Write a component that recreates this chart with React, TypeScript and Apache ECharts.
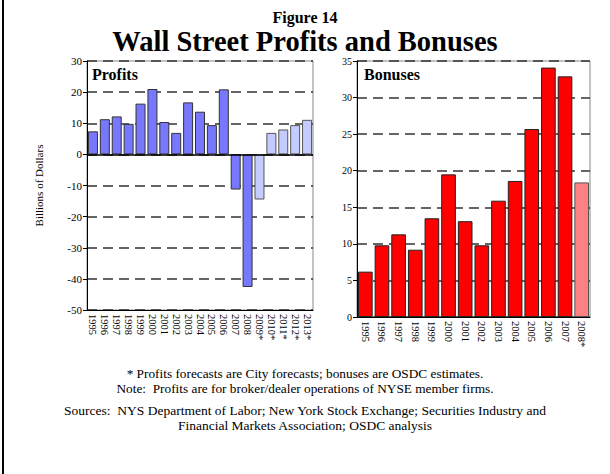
import React, { useEffect, useRef } from "react";
import * as echarts from "echarts";

const profitYears = ["1995","1996","1997","1998","1999","2000","2001","2002","2003","2004","2005","2006","2007","2008","2009*","2010*","2011*","2012*","2013*"];
const profitValues = [7.4, 11.3, 12.2, 9.8, 16.3, 21.0, 10.4, 6.9, 16.7, 13.7, 9.4, 20.9, -11.3, -42.6, -14.5, 6.9, 8.0, 9.4, 11.1];
const profitForecast = [false,false,false,false,false,false,false,false,false,false,false,false,false,false,true,true,true,true,true];

const bonusYears = ["1995","1996","1997","1998","1999","2000","2001","2002","2003","2004","2005","2006","2007","2008*"];
const bonusValues = [6.2, 9.8, 11.3, 9.2, 13.5, 19.5, 13.1, 9.8, 15.9, 18.6, 25.7, 34.1, 32.9, 18.4];
const bonusEstimate = [false,false,false,false,false,false,false,false,false,false,false,false,false,true];

const FONT = "'Liberation Serif', 'Times New Roman', serif";

export default function App() {
  const ref = useRef<HTMLDivElement>(null);
  useEffect(() => {
    if (!ref.current) return;
    const chart = echarts.init(ref.current, null, { renderer: "svg" });
    const axisLabel = { color: "#000", fontFamily: FONT, fontSize: 11 };
    const splitLine = { show: true, lineStyle: { type: [10, 6] as any, color: "#333", width: 1.5 } };
    const option: any = {
      animation: false,
      backgroundColor: "#fff",
      title: [
        { text: "Figure 14", left: "center", top: 4, textStyle: { fontFamily: FONT, fontSize: 16, fontWeight: "bold", color: "#000" } },
        { text: "Wall Street Profits and Bonuses", left: "center", top: 22, textStyle: { fontFamily: FONT, fontSize: 28.5, fontWeight: "bold", color: "#000" } },
      ],
      grid: [
        { left: 87, top: 61, width: 226, height: 249, show: true, borderColor: "#888", borderWidth: 1, backgroundColor: "transparent" },
        { left: 357, top: 61, width: 233, height: 256, show: true, borderColor: "#888", borderWidth: 1, backgroundColor: "transparent" },
      ],
      xAxis: [
        {
          type: "category", gridIndex: 0, data: profitYears,
          axisLine: { onZero: false, lineStyle: { color: "#000", width: 1 } },
          axisTick: { alignWithLabel: true, length: 3, lineStyle: { color: "#000" } },
          axisLabel: { ...axisLabel, fontSize: 10.5, rotate: -90, margin: 4, interval: 0 },
        },
        {
          type: "category", gridIndex: 1, data: bonusYears,
          axisLine: { onZero: false, lineStyle: { color: "#000", width: 1 } },
          axisTick: { alignWithLabel: true, length: 3, lineStyle: { color: "#000" } },
          axisLabel: { ...axisLabel, fontSize: 10.5, rotate: -90, margin: 4, interval: 0 },
        },
      ],
      yAxis: [
        {
          type: "value", gridIndex: 0, min: -50, max: 30, interval: 10,
          name: "Billions of Dollars", nameLocation: "middle", nameGap: 43, nameRotate: 90,
          nameTextStyle: { fontFamily: FONT, fontSize: 11, color: "#000" },
          axisLine: { show: true, lineStyle: { color: "#000" } },
          axisTick: { show: true, length: 4, lineStyle: { color: "#000" } },
          axisLabel: { ...axisLabel, margin: 5 },
          splitLine,
        },
        {
          type: "value", gridIndex: 1, min: 0, max: 35, interval: 5,
          axisLine: { show: true, lineStyle: { color: "#000" } },
          axisTick: { show: true, length: 4, lineStyle: { color: "#000" } },
          axisLabel: { ...axisLabel, fontSize: 10, margin: 5 },
          splitLine,
        },
      ],
      series: [
        {
          type: "bar", xAxisIndex: 0, yAxisIndex: 0, barCategoryGap: "16%",
          data: profitValues.map((v, i) => ({
            value: v,
            itemStyle: profitForecast[i]
              ? { color: "#C4CCFF", borderColor: "#555", borderWidth: 1 }
              : { color: "#7878FF", borderColor: "#333", borderWidth: 1 },
          })),
          markLine: {
            silent: true, symbol: "none", label: { show: false },
            lineStyle: { color: "#000", type: "solid", width: 1.5 },
            data: [{ yAxis: 0 }],
          },
        },
        {
          type: "bar", xAxisIndex: 1, yAxisIndex: 1, barCategoryGap: "12%",
          data: bonusValues.map((v, i) => ({
            value: v,
            itemStyle: bonusEstimate[i]
              ? { color: "#FF8080", borderColor: "#555", borderWidth: 1 }
              : { color: "#FF0000", borderColor: "#222", borderWidth: 1 },
          })),
        },
      ],
      graphic: [
        { type: "line", shape: { x1: 3, y1: 0, x2: 3, y2: 474 }, style: { stroke: "#000", lineWidth: 2 } },
        { type: "text", left: 92, top: 66, style: { text: "Profits", font: `bold 16px ${FONT}`, fill: "#000" } },
        { type: "text", left: 364, top: 66, style: { text: "Bonuses", font: `bold 16px ${FONT}`, fill: "#000" } },
        { type: "text", x: 305, y: 367, style: { text: "* Profits forecasts are City forecasts; bonuses are OSDC estimates.", font: `13.3px ${FONT}`, fill: "#000", align: "center" } },
        { type: "text", x: 305, y: 382, style: { text: "Note:  Profits are for broker/dealer operations of NYSE member firms.", font: `13.3px ${FONT}`, fill: "#000", align: "center" } },
        { type: "text", x: 305, y: 403, style: { text: "Sources:  NYS Department of Labor; New York Stock Exchange; Securities Industry and", font: `13.5px ${FONT}`, fill: "#000", align: "center" } },
        { type: "text", x: 305, y: 418, style: { text: "Financial Markets Association; OSDC analysis", font: `13.5px ${FONT}`, fill: "#000", align: "center" } },
      ],
    };
    chart.setOption(option);
    return () => chart.dispose();
  }, []);
  return <div ref={ref} style={{ width: 610, height: 474, position: "absolute", left: 0, top: 0 }} />;
}
